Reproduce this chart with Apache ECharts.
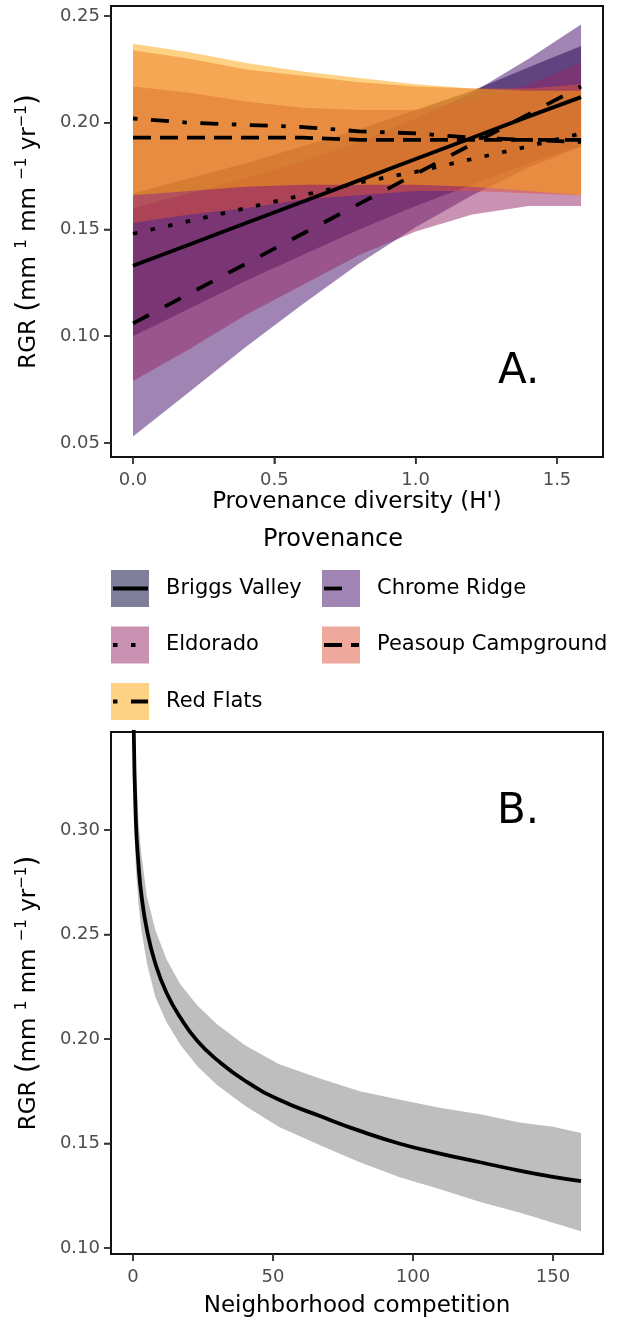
<!DOCTYPE html>
<html>
<head>
<meta charset="utf-8">
<script src="https://cdn.jsdelivr.net/npm/echarts@6/dist/echarts.min.js"></script>
<style>
  html, body { margin: 0; padding: 0; background: #fff; }
  #chart { width: 627px; height: 1321px; }
</style>
</head>
<body>
<div id="chart"></div>
<script>
// panel A: fitted RGR vs provenance diversity, one band per provenance
const provenances = ['Briggs Valley', 'Chrome Ridge', 'Eldorado', 'Peasoup Campground', 'Red Flats']
const diversityX = [0, 0.2, 0.4, 0.6, 0.8, 1.0, 1.2, 1.4, 1.585]

const briggsFit = [0.133, 0.143, 0.153, 0.163, 0.173, 0.183, 0.193, 0.203, 0.212]
const briggsLower = [0.100, 0.113, 0.126, 0.138, 0.150, 0.161, 0.171, 0.181, 0.189]
const briggsUpper = [0.167, 0.174, 0.181, 0.189, 0.197, 0.206, 0.215, 0.226, 0.236]

const chromeFit = [0.106, 0.120, 0.134, 0.148, 0.162, 0.176, 0.190, 0.204, 0.217]
const chromeLower = [0.053, 0.074, 0.095, 0.115, 0.134, 0.151, 0.166, 0.179, 0.189]
const chromeUpper = [0.160, 0.167, 0.174, 0.182, 0.191, 0.202, 0.214, 0.230, 0.246]

const eldoradoFit = [0.148, 0.154, 0.160, 0.166, 0.172, 0.177, 0.183, 0.189, 0.195]
const eldoradoLower = [0.079, 0.094, 0.110, 0.124, 0.138, 0.149, 0.157, 0.161, 0.161]
const eldoradoUpper = [0.217, 0.214, 0.210, 0.207, 0.206, 0.206, 0.210, 0.218, 0.228]

const peasoupFit = [0.193, 0.193, 0.193, 0.193, 0.192, 0.192, 0.192, 0.192, 0.192]
const peasoupLower = [0.153, 0.157, 0.160, 0.164, 0.166, 0.168, 0.168, 0.167, 0.166]
const peasoupUpper = [0.234, 0.230, 0.225, 0.222, 0.219, 0.217, 0.216, 0.216, 0.218]

const redFlatsFit = [0.202, 0.200, 0.199, 0.198, 0.196, 0.195, 0.193, 0.192, 0.191]
const redFlatsLower = [0.166, 0.168, 0.170, 0.171, 0.171, 0.171, 0.170, 0.168, 0.166]
const redFlatsUpper = [0.237, 0.233, 0.228, 0.224, 0.221, 0.218, 0.216, 0.215, 0.215]

const diversityTicks = [0, 0.5, 1.0, 1.5]
const rgrTicksA = [0.05, 0.10, 0.15, 0.20, 0.25]

// panel B: RGR vs neighborhood competition
const competitionX = [0.2, 1, 2, 3, 5, 8, 12, 17, 23, 30, 40, 52, 67, 81, 95, 110, 124, 138, 150, 160]
const competitionFit = [0.355, 0.305, 0.283, 0.269, 0.252, 0.236, 0.222, 0.210, 0.199, 0.190, 0.180, 0.171, 0.163, 0.156, 0.150, 0.145, 0.141, 0.137, 0.134, 0.132]
const competitionLower = [0.315, 0.282, 0.264, 0.252, 0.236, 0.220, 0.208, 0.197, 0.187, 0.178, 0.168, 0.158, 0.149, 0.141, 0.134, 0.128, 0.122, 0.117, 0.112, 0.108]
const competitionUpper = [0.400, 0.330, 0.303, 0.288, 0.268, 0.252, 0.238, 0.226, 0.216, 0.207, 0.197, 0.188, 0.181, 0.175, 0.171, 0.167, 0.164, 0.160, 0.158, 0.155]

const competitionTicks = [0, 50, 100, 150]
const rgrTicksB = [0.10, 0.15, 0.20, 0.25, 0.30]

// styles
const FONT = "'DejaVu Sans', sans-serif"
const fills = ['#000033', '#420A68', '#932667', '#DD513A', '#FCA50A']
const dashes = ['solid', [18, 18], [4.5, 13.5], [18, 9], [4.5, 13.5, 18, 13.5]]
const LINE_W = 3.8
const TICK_LEN = 7

const fitsA = [briggsFit, chromeFit, eldoradoFit, peasoupFit, redFlatsFit]
const lowersA = [briggsLower, chromeLower, eldoradoLower, peasoupLower, redFlatsLower]
const uppersA = [briggsUpper, chromeUpper, eldoradoUpper, peasoupUpper, redFlatsUpper]

function rgba (hex, a) {
  const n = parseInt(hex.slice(1), 16)
  return 'rgba(' + (n >> 16) + ',' + ((n >> 8) & 255) + ',' + (n & 255) + ',' + a + ')'
}

function zip (xs, ys) {
  return xs.map((x, i) => [x, ys[i]])
}

function bandSeries (name, xs, lower, upper, fill, idx) {
  return {
    type: 'custom',
    name: name,
    xAxisIndex: idx,
    yAxisIndex: idx,
    clip: true,
    silent: true,
    data: [0],
    renderItem: function (params, api) {
      const top = xs.map((x, i) => api.coord([x, upper[i]]))
      const bottom = xs.map((x, i) => api.coord([x, lower[i]])).reverse()
      return {
        type: 'polygon',
        shape: { points: top.concat(bottom) },
        style: { fill: fill, stroke: null }
      }
    }
  }
}

function fitSeries (name, xs, ys, dash, idx, smooth) {
  return {
    type: 'line',
    name: name,
    xAxisIndex: idx,
    yAxisIndex: idx,
    data: zip(xs, ys),
    showSymbol: false,
    symbol: 'none',
    smooth: smooth || false,
    clip: true,
    silent: true,
    z: 5,
    lineStyle: { color: '#000', width: LINE_W, type: dash, cap: 'butt' }
  }
}

const yTitle = 'RGR {par|(}mm {sup|1} mm {sup|\u22121} yr{sup|\u22121}{par|)}'
const yNameStyle = {
  fontFamily: FONT,
  fontSize: 23,
  color: '#000',
  rich: {
    sup: { fontFamily: FONT, fontSize: 15, color: '#000', verticalAlign: 'top' },
    par: { fontFamily: FONT, fontSize: 28, color: '#000' }
  }
}

function valueAxis (min, max, ticks, fmt, margin, extra) {
  return Object.assign({
    type: 'value',
    min: min,
    max: max,
    axisLine: { show: true, onZero: false, lineStyle: { color: '#111', width: 2 } },
    splitLine: { show: false },
    axisTick: { show: true, length: TICK_LEN, customValues: ticks, lineStyle: { color: '#333', width: 1.5 } },
    axisLabel: {
      customValues: ticks,
      formatter: fmt,
      fontFamily: FONT,
      fontSize: 18,
      color: '#4d4d4d',
      margin: margin
    },
    nameMoveOverlap: false
  }, extra)
}

const series = []
provenances.forEach((p, i) => {
  series.push(bandSeries(p + ' band', diversityX, lowersA[i], uppersA[i], rgba(fills[i], 0.5), 0))
})
provenances.forEach((p, i) => {
  series.push(fitSeries(p, diversityX, fitsA[i], dashes[i], 0))
})
series.push(bandSeries('competition band', competitionX, competitionLower, competitionUpper, '#bebebe', 1))
series.push(fitSeries('competition', competitionX, competitionFit, 'solid', 1, true))

// legend drawn by hand so keys look like ggplot keys
const legendGraphics = [{
  type: 'text',
  x: 333,
  y: 540,
  style: { text: 'Provenance', fontFamily: FONT, fontSize: 24, fill: '#000', align: 'center', verticalAlign: 'middle' }
}]
provenances.forEach((p, i) => {
  const kx = [111, 322][i % 2]
  const ky = 570 + Math.floor(i / 2) * 56.5
  legendGraphics.push({
    type: 'rect',
    shape: { x: kx, y: ky, width: 38, height: 37 },
    style: { fill: rgba(fills[i], 0.5) }
  })
  legendGraphics.push({
    type: 'line',
    shape: { x1: kx + 2, y1: ky + 18.5, x2: kx + 37, y2: ky + 18.5 },
    style: {
      stroke: '#000',
      lineWidth: LINE_W,
      lineCap: 'butt',
      lineDash: dashes[i] === 'solid' ? null : dashes[i]
    }
  })
  legendGraphics.push({
    type: 'text',
    x: kx + 55,
    y: ky + 18.5,
    style: { text: p, fontFamily: FONT, fontSize: 21, fill: '#000', verticalAlign: 'middle' }
  })
})
legendGraphics.push(
  { type: 'text', x: 498, y: 372, style: { text: 'A.', fontFamily: FONT, fontSize: 42, fill: '#000', verticalAlign: 'middle' } },
  { type: 'text', x: 497, y: 812, style: { text: 'B.', fontFamily: FONT, fontSize: 42, fill: '#000', verticalAlign: 'middle' } }
)

const grids = [
  { left: 111, top: 6, width: 492, height: 451 },
  { left: 111, top: 732, width: 492, height: 522 }
]

const option = {
  animation: false,
  backgroundColor: '#fff',
  grid: grids.map(g => Object.assign({ show: true, borderColor: '#111', borderWidth: 2, backgroundColor: 'transparent', outerBoundsMode: 'none' }, g)),
  xAxis: [
    valueAxis(-0.0778, 1.6627, diversityTicks, v => v.toFixed(1), 14, {
      gridIndex: 0,
      position: 'bottom',
      name: "Provenance diversity (H')",
      nameLocation: 'middle',
      nameGap: 34,
      nameTextStyle: { fontFamily: FONT, fontSize: 23, color: '#000' }
    }),
    valueAxis(-7.86, 167.86, competitionTicks, v => String(v), 14, {
      gridIndex: 1,
      position: 'bottom',
      name: 'Neighborhood competition',
      nameLocation: 'middle',
      nameGap: 41,
      nameTextStyle: { fontFamily: FONT, fontSize: 23, color: '#000' }
    })
  ],
  yAxis: [
    valueAxis(0.0434, 0.2547, rgrTicksA, v => v.toFixed(2), 11, {
      gridIndex: 0,
      position: 'left',
      name: yTitle,
      nameLocation: 'middle',
      nameRotate: 90,
      nameGap: 68,
      nameTextStyle: yNameStyle
    }),
    valueAxis(0.0971, 0.3469, rgrTicksB, v => v.toFixed(2), 11, {
      gridIndex: 1,
      position: 'left',
      name: yTitle,
      nameLocation: 'middle',
      nameRotate: 90,
      nameGap: 68,
      nameTextStyle: yNameStyle
    })
  ],
  graphic: legendGraphics,
  series: series
}

const chart = echarts.init(document.getElementById('chart'), null, { renderer: 'canvas' })
chart.setOption(option)

// outward tick marks, placed through the axes' own scales
const tickStyle = { stroke: '#333', lineWidth: 1.5 }
const tickGraphics = []
const xTickSets = [diversityTicks, competitionTicks]
const yTickSets = [rgrTicksA, rgrTicksB]
grids.forEach((g, gi) => {
  const bottom = g.top + g.height
  xTickSets[gi].forEach(v => {
    const px = chart.convertToPixel({ xAxisIndex: gi }, v)
    tickGraphics.push({ type: 'line', shape: { x1: px, y1: bottom, x2: px, y2: bottom + TICK_LEN }, style: tickStyle })
  })
  yTickSets[gi].forEach(v => {
    const py = chart.convertToPixel({ yAxisIndex: gi }, v)
    tickGraphics.push({ type: 'line', shape: { x1: g.left - TICK_LEN, y1: py, x2: g.left, y2: py }, style: tickStyle })
  })
})
chart.setOption({ graphic: legendGraphics.concat(tickGraphics) })
</script>
</body>
</html>
